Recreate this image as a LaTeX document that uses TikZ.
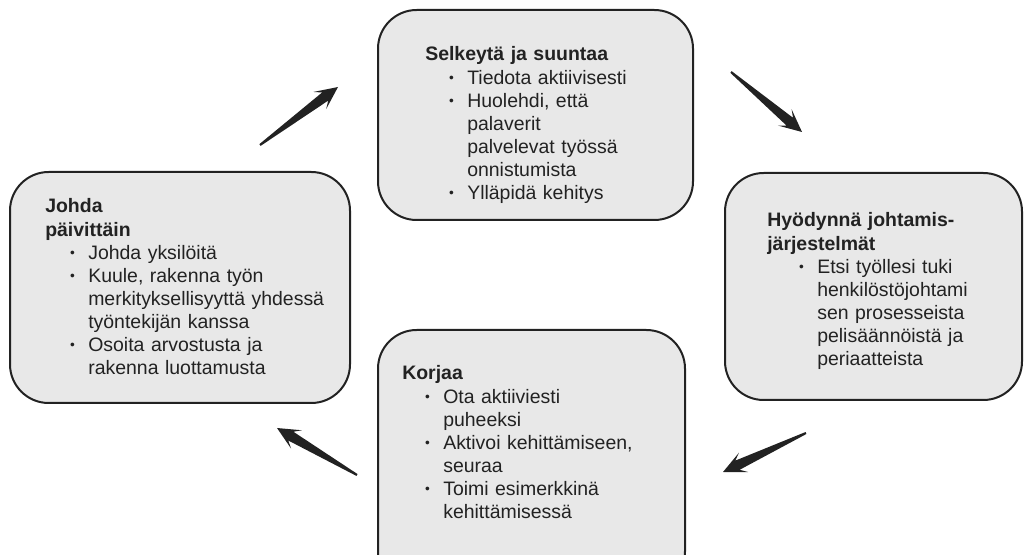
\documentclass[tikz,border=0pt]{standalone}
\usepackage{fontspec}
\setmainfont{Liberation Sans}
\usepackage{graphicx}
\usepackage{tikz}
\usetikzlibrary{positioning,calc}
\definecolor{BoxFill}{HTML}{E8E8E8}
\definecolor{BoxLine}{HTML}{222222}
\definecolor{Dark}{HTML}{222222}
\newcommand{\stagefont}{\fontsize{14.6}{17.3}\selectfont}
\newcommand{\stagebullet}{\raisebox{0.08em}{\scalebox{0.7}{\textbullet}}}
\newenvironment{stagelist}[1][31.5pt]{%
  \begin{list}{\stagebullet}{%
    \setlength{\leftmargin}{#1}%
    \setlength{\labelsep}{10pt}%
    \setlength{\labelwidth}{\dimexpr#1-10pt\relax}%
    \setlength{\itemsep}{0pt}\setlength{\parsep}{0pt}%
    \setlength{\topsep}{0pt}\setlength{\partopsep}{0pt}}}%
  {\end{list}}
% tapered arrow from #1 (tail) to #2 (tip)
\newcommand{\wedgearrow}[2]{%
  \coordinate (hb) at ($(#2)!12pt!(#1)$);
  \coordinate (wb) at ($(#2)!17pt!(#1)$);
  \fill[Dark] ($(#1)!0.8pt!90:(#2)$) -- ($(hb)!3.8pt!90:(#2)$)
    -- ($(wb)!8pt!90:(#2)$) -- (#2) -- ($(wb)!8pt!-90:(#2)$)
    -- ($(hb)!3.8pt!-90:(#2)$) -- ($(#1)!0.8pt!-90:(#2)$) -- cycle;
}

\begin{document}
\begin{tikzpicture}[x=0.75pt,y=-0.75pt,
    stagebox/.style={draw=BoxLine, fill=BoxFill, line width=1.5pt,
      rounded corners=29pt, inner sep=0pt},
    stagetext/.style={anchor=base west, inner sep=0pt, text width=300pt,
      align=left, font=\stagefont, text=Dark}]
  \useasboundingbox (0,0) rectangle (1024,555);

  % boxes
  \node[stagebox, minimum width=236.25pt, minimum height=157.5pt] (selkeyta) at (535.5,115) {};
  \node[stagebox, minimum width=222.75pt, minimum height=170.25pt] (hyodynna) at (873.5,286.5) {};
  \node[stagebox, minimum width=230.25pt, minimum height=195pt] (korjaa) at (531.5,460) {};
  \node[stagebox, minimum width=255pt, minimum height=173.25pt] (johda) at (180,287.5) {};

  % texts
  \node[stagetext] (selkeyta-txt) at (425,61) {\textbf{Selkeytä ja suuntaa}
    \begin{stagelist}
      \item Tiedota aktiivisesti
      \item Huolehdi, että\newline palaverit\newline palvelevat työssä\newline onnistumista
      \item Ylläpidä kehitys
    \end{stagelist}};
  \node[stagetext] (hyodynna-txt) at (767,227) {\textbf{Hyödynnä johtamis-}\newline\textbf{järjestelmät}
    \begin{stagelist}[37.5pt]
      \item Etsi työllesi tuki\newline henkilöstöjohtami\newline sen prosesseista\newline pelisäännöistä ja\newline periaatteista
    \end{stagelist}};
  \node[stagetext] (korjaa-txt) at (402,380) {\textbf{Korjaa}
    \begin{stagelist}[30.75pt]
      \item Ota aktiiviesti\newline puheeksi
      \item Aktivoi kehittämiseen,\newline seuraa
      \item Toimi esimerkkinä\newline kehittämisessä
    \end{stagelist}};
  \node[stagetext] (johda-txt) at (45,213) {\textbf{Johda}\newline\textbf{päivittäin}
    \begin{stagelist}[32.25pt]
      \item Johda yksilöitä
      \item Kuule, rakenna työn\newline merkityksellisyyttä yhdessä\newline työntekijän kanssa
      \item Osoita arvostusta ja\newline rakenna luottamusta
    \end{stagelist}};

  % arrows
  \coordinate (a1-tail) at (260,145); \coordinate (a1-tip) at (338,87);
  \coordinate (a2-tail) at (731,72);  \coordinate (a2-tip) at (802,132);
  \coordinate (a3-tail) at (806,433); \coordinate (a3-tip) at (723,472);
  \coordinate (a4-tail) at (357,475); \coordinate (a4-tip) at (277,428);
  \wedgearrow{a1-tail}{a1-tip}
  \wedgearrow{a2-tail}{a2-tip}
  \wedgearrow{a3-tail}{a3-tip}
  \wedgearrow{a4-tail}{a4-tip}
\end{tikzpicture}
\end{document}
